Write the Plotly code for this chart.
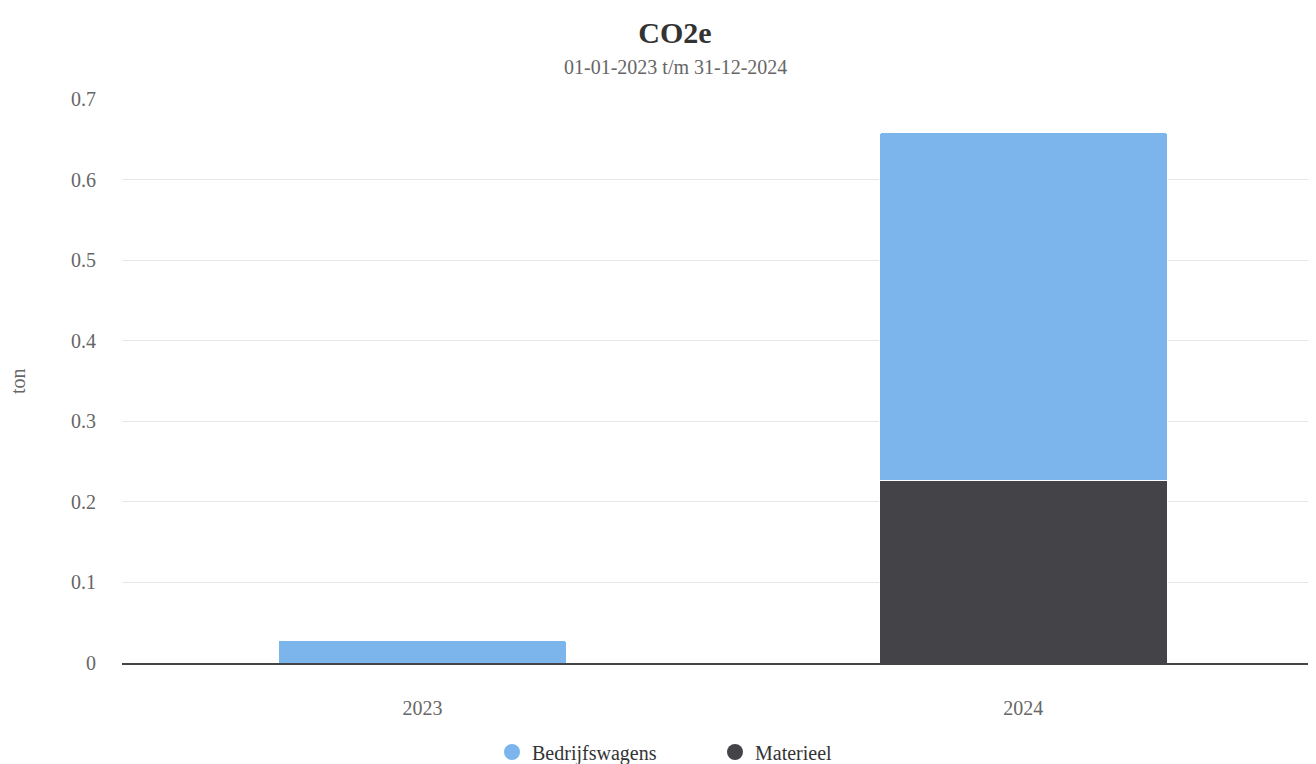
import plotly.graph_objects as go

years = ["2023", "2024"]
bedrijfswagens = [0.028, 0.432]
materieel = [0.0, 0.226]
y_ticks = [0, 0.1, 0.2, 0.3, 0.4, 0.5, 0.6, 0.7]
y_tick_labels = ["0", "0.1", "0.2", "0.3", "0.4", "0.5", "0.6", "0.7"]

C_BED = "#7cb5ec"
C_MAT = "#434348"
FONT = "Liberation Serif, Times New Roman, serif"
# the page body has an 8px margin, so the figure is drawn 8px in from the corner
OFF = 8
W, H = 1308, 756
L, T, B = 114, 91, 101

fig = go.Figure()
fig.add_trace(go.Bar(x=years, y=materieel, name="Materieel", marker=dict(color=C_MAT, line=dict(color="white", width=1)),
                     width=0.48, showlegend=False))
fig.add_trace(go.Bar(x=years, y=bedrijfswagens, name="Bedrijfswagens", marker=dict(color=C_BED, line=dict(color="white", width=1)),
                     width=0.48, showlegend=False))
# legend entries with circle symbols
fig.add_trace(go.Scatter(x=[None], y=[None], mode="markers", name="Bedrijfswagens",
                         marker=dict(symbol="circle", size=16, color=C_BED)))
fig.add_trace(go.Scatter(x=[None], y=[None], mode="markers", name="Materieel",
                         marker=dict(symbol="circle", size=16, color=C_MAT)))

fig.update_layout(
    width=W, height=H,
    barmode="stack",
    barcornerradius=3,
    plot_bgcolor="white", paper_bgcolor="white",
    margin=dict(l=L, r=0, t=T, b=B),
    font=dict(family=FONT, size=20, color="#666666"),
    title=dict(text="<b>CO2e</b>", x=(675 - OFF) / W, xanchor="center", xref="container",
               y=1 - (32 - OFF) / H, yref="container", yanchor="middle",
               font=dict(family=FONT, size=30, color="#333333")),
    legend=dict(orientation="h", x=(492 - OFF) / W, xanchor="left", xref="container",
                y=1 - (752 - OFF) / H, yref="container", yanchor="middle",
                font=dict(family=FONT, size=20, color="#333333"),
                itemsizing="trace", itemwidth=30,
                entrywidthmode="pixels", entrywidth=178,
                traceorder="normal"),
    annotations=[
        dict(text="01-01-2023 t/m 31-12-2024", xref="paper", yref="paper",
             x=(675 - OFF - L) / (W - L), y=1 + (T - (67 - OFF)) / (H - T - B),
             xanchor="center", yanchor="middle", showarrow=False,
             font=dict(family=FONT, size=20, color="#666666")),
        dict(text="ton", xref="paper", yref="paper", x=0, y=0.5, xshift=-104,
             textangle=-90, xanchor="center", yanchor="middle", showarrow=False,
             font=dict(family=FONT, size=20, color="#666666")),
    ],
    xaxis=dict(type="category", range=[-0.5, 1.487], showgrid=False,
               showline=True, linecolor="#444444", linewidth=1.5,
               ticks="", ticklabelstandoff=26, fixedrange=True,
               tickfont=dict(family=FONT, size=20, color="#666666")),
    yaxis=dict(range=[0, 0.7], tickvals=y_ticks, ticktext=y_tick_labels,
               showgrid=True, gridcolor="#e6e6e6", gridwidth=1, zeroline=False,
               showline=False, ticks="", ticklabelstandoff=25,
               tickfont=dict(family=FONT, size=20, color="#666666")),
    showlegend=True,
)

fig.write_html("out.html")
